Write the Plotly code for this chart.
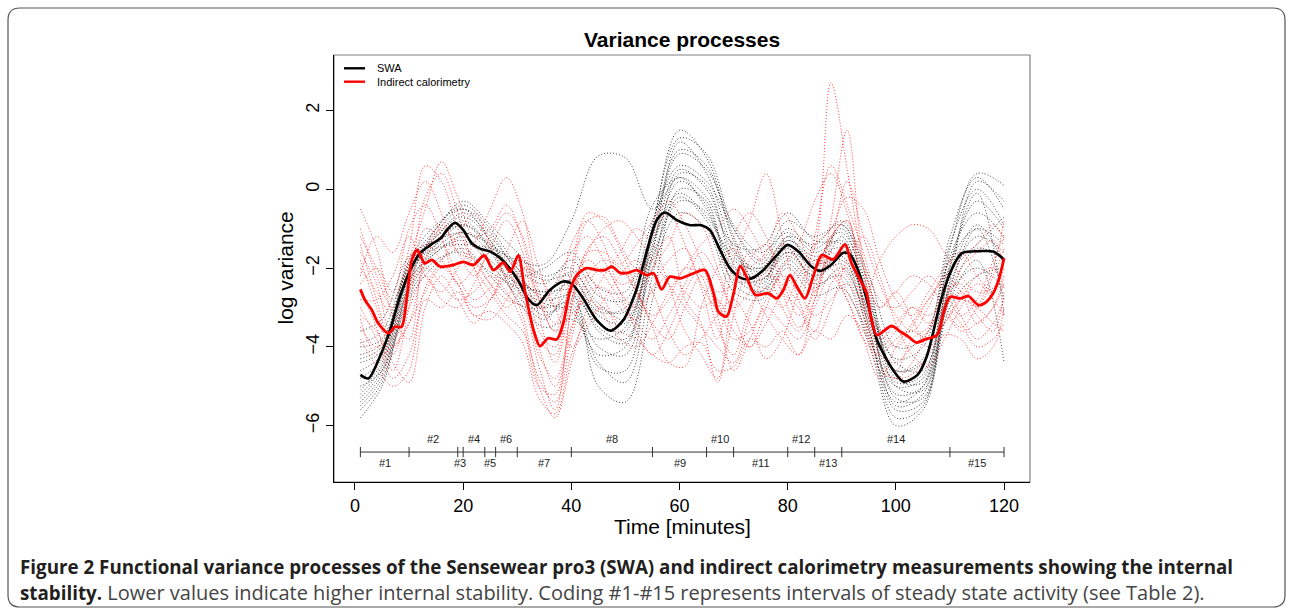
import plotly.graph_objects as go

# ---------------- data ----------------
# mean variance processes
SWA_x = [1, 2.5, 4.6, 6.5, 8.3, 10.2, 12, 14, 16, 17, 18.5, 20, 21.6, 23, 25, 27, 28.7, 30.5, 32, 33.6,
         36, 38.5, 40, 42, 44.7, 47.2, 49.6, 52, 54, 55.8, 57.3, 59.5, 62, 64, 65.6, 67.5, 69.3, 71.5,
         73.4, 75.5, 78, 80, 82, 84.4, 86, 88, 90.3, 91.5, 93.4, 95, 96.5, 99.5, 101.4, 104, 105.7,
         108.2, 110, 112.2, 115.6, 118, 120]
SWA_y = [-4.71, -4.8, -4.25, -3.57, -2.73, -2.05, -1.62, -1.41, -1.22, -1.03, -0.85, -1.03, -1.37, -1.5,
         -1.58, -1.76, -2.02, -2.39, -2.78, -2.94, -2.56, -2.34, -2.39, -2.73, -3.32, -3.59, -3.32, -2.56,
         -1.54, -0.78, -0.59, -0.78, -0.91, -0.91, -1.03, -1.54, -2.0, -2.26, -2.26, -2.05, -1.67, -1.41,
         -1.58, -1.96, -2.07, -1.92, -1.61, -1.65, -2.2, -3.0, -3.82, -4.59, -4.88, -4.71, -4.25, -2.89,
         -2.13, -1.62, -1.57, -1.58, -1.78]

IC_x = [1, 1.85, 3.1, 4.3, 6.2, 7.4, 8.6, 9.6, 10.5, 11.5, 12.9, 14.2, 15.7, 18.2, 20, 21.9, 23.9, 25.6,
        27.4, 28.7, 30.2, 31.4, 33, 34.2, 35.7, 37.3, 38.5, 39.8, 41, 42.8, 44.7, 46.2, 47.5, 49, 50.5,
        52.1, 53.9, 55.2, 56.7, 58.2, 60.1, 62.6, 64.7, 66.3, 67.2, 68.7, 70, 71.2, 72.4, 74, 76.4, 78,
        79.2, 80.4, 81.7, 83.2, 84.7, 86.3, 88.4, 90.6, 91.8, 93.4, 94.6, 95.5, 96.5, 99.2, 100.8, 102.3,
        103.8, 105.4, 107.6, 108.8, 110, 111.9, 113.4, 115.3, 116.8, 118, 119, 120]
IC_y = [-2.54, -2.81, -3.06, -3.4, -3.65, -3.49, -3.49, -2.73, -1.79, -1.54, -1.88, -1.79, -1.96, -1.92,
        -1.84, -1.92, -1.68, -2.05, -1.86, -2.09, -1.68, -2.56, -3.57, -3.98, -3.78, -3.81, -3.4, -2.56,
        -2.18, -2.0, -2.05, -2.05, -1.96, -2.12, -2.12, -2.05, -2.18, -2.13, -2.54, -2.22, -2.26, -2.13,
        -2.05, -2.64, -3.11, -3.23, -2.64, -1.95, -2.22, -2.68, -2.64, -2.77, -2.56, -2.18, -2.47, -2.77,
        -2.22, -1.67, -1.78, -1.4, -1.88, -2.3, -2.64, -3.32, -3.7, -3.47, -3.61, -3.74, -3.89, -3.81,
        -3.7, -3.15, -2.73, -2.77, -2.71, -2.94, -2.85, -2.64, -2.3, -1.75]

# individual SWA processes (read on a 5-minute grid)
SWA_grid = [1, 5, 10, 15, 20, 25, 30, 35, 40, 45, 50, 55, 60, 65, 70, 75, 80, 85, 90, 95, 100, 105, 110, 115, 120]
swa_1 = [-5.6, -4.9, -2.4, -1.0, -0.4, -1.0, -2.0, -3.1, -3.0, -4.5, -4.6, -1.0, 1.5, 0.8, -1.2, -2.3, -1.6, -2.2, -1.2, -3.5, -5.8, -5.5, -2.0, -0.3, -1.0]
swa_2 = [-5.2, -4.5, -2.2, -1.2, -0.7, -1.3, -2.5, -3.2, -2.8, -4.0, -4.2, -1.6, 1.2, 0.4, -1.5, -2.4, -1.3, -1.8, -1.0, -3.0, -5.5, -5.2, -2.3, 0.2, -0.3]
swa_3 = [-4.0, -3.8, -2.0, -1.5, -1.4, -1.5, -1.8, -1.9, -0.8, 0.85, 0.8, -0.5, 0.3, -0.5, -1.8, -2.0, -1.2, -1.4, -0.8, -2.2, -4.0, -3.8, -1.8, -1.0, -1.4]
swa_4 = [-4.6, -4.2, -2.3, -1.6, -1.2, -1.8, -2.4, -2.6, -2.6, -5.0, -5.4, -2.8, 0.0, -0.3, -2.4, -2.7, -1.8, -2.4, -2.2, -3.8, -5.0, -4.8, -2.6, -2.0, -2.5]
swa_5 = [-3.9, -3.6, -1.9, -1.2, -0.6, -1.2, -2.0, -2.4, -1.8, -2.7, -2.8, -0.8, 0.6, 0.2, -1.0, -1.8, -0.8, -1.2, -0.9, -2.6, -4.4, -4.6, -1.5, 0.4, 0.1]
swa_6 = [-5.0, -4.6, -2.6, -1.6, -1.3, -1.9, -2.7, -3.3, -2.6, -3.5, -3.8, -1.8, -0.3, -0.6, -2.2, -2.6, -1.9, -2.5, -2.0, -3.4, -5.2, -5.0, -2.8, -1.8, -4.4]
swa_7 = [-4.3, -4.0, -1.9, -1.0, -0.3, -0.9, -1.6, -2.2, -2.0, -3.0, -3.1, -1.2, 0.9, 0.5, -0.9, -1.6, -1.1, -1.6, -1.3, -2.8, -4.8, -4.9, -1.7, -0.6, -1.2]
swa_8 = [-5.8, -5.0, -2.7, -1.8, -1.6, -2.1, -2.5, -2.9, -3.1, -4.2, -4.0, -2.0, -0.6, -1.0, -2.6, -2.8, -2.0, -2.7, -2.5, -3.9, -6.0, -5.6, -3.0, -2.2, -2.0]
swa_9 = [-4.8, -4.3, -2.0, -1.4, -0.9, -1.4, -2.2, -2.0, -1.6, -2.5, -2.6, -0.4, 0.3, -0.2, -1.4, -1.5, -0.6, -1.3, -1.4, -3.1, -4.3, -4.0, -1.2, 0.3, -0.5]
swa_10 = [-5.4, -4.7, -2.5, -1.5, -1.1, -1.6, -2.8, -3.5, -3.3, -3.8, -3.5, -1.5, 0.2, -0.4, -2.0, -2.2, -1.5, -2.3, -1.6, -3.2, -5.3, -5.3, -2.4, -1.2, -1.6]
swa_11 = [-3.6, -3.3, -1.7, -1.3, -1.1, -1.4, -1.9, -2.3, -2.2, -3.1, -3.0, -1.3, -0.1, -0.7, -1.7, -2.1, -1.6, -1.9, -1.8, -2.9, -4.6, -4.4, -2.0, -1.4, -0.7]
swa_12 = [-5.1, -4.4, -2.3, -1.1, -0.5, -1.1, -2.1, -2.8, -2.7, -3.4, -3.6, -1.1, 1.0, 0.6, -1.3, -2.5, -1.2, -2.0, -0.9, -2.4, -5.0, -5.1, -1.9, -0.1, -3.2]
swa_13 = [-4.4, -4.1, -2.1, -1.3, -0.9, -1.5, -2.3, -2.6, -2.1, -2.9, -3.3, -1.4, 0.5, 0.0, -1.6, -2.0, -1.3, -1.7, -1.5, -3.3, -4.9, -4.7, -2.2, -0.9, -1.9]
swa_14 = [-5.5, -4.8, -2.8, -1.9, -1.5, -2.2, -2.9, -3.0, -2.3, -3.2, -3.4, -1.7, -0.2, -0.8, -2.3, -2.3, -1.7, -2.2, -1.9, -3.6, -5.6, -5.4, -2.7, -1.5, -1.8]
swa_15 = [-4.2, -3.9, -1.8, -0.9, -0.5, -1.3, -2.2, -2.7, -2.4, -3.6, -3.9, -0.9, 1.3, 0.9, -1.0, -1.9, -1.0, -1.5, -1.1, -2.7, -4.6, -4.3, -1.4, 0.0, -0.9]
swa_16 = [-5.3, -4.6, -2.4, -1.4, -0.8, -1.5, -2.6, -3.0, -2.9, -4.4, -4.9, -2.2, 0.4, 0.1, -1.9, -2.6, -1.4, -2.1, -1.7, -3.7, -5.4, -5.0, -2.5, -1.0, -2.8]
SWA_runs = [swa_1, swa_2, swa_3, swa_4, swa_5, swa_6, swa_7, swa_8, swa_9, swa_10, swa_11, swa_12,
            swa_13, swa_14, swa_15, swa_16]

# individual indirect calorimetry processes (read on a 3-minute grid)
IC_grid = [1, 4, 7, 10, 13, 16, 19, 22, 25, 28, 31, 34, 37, 40, 43, 46, 49, 52, 55, 58, 61, 64, 67, 70,
           73, 76, 79, 82, 85, 88, 91, 94, 97, 100, 103, 106, 109, 112, 115, 118, 120]
ic_1 = [-1.2, -2.0, -2.8, -1.5, 0.6, 0.2, -1.0, -1.8, -2.4, -2.8, -3.0, -4.5, -5.6, -3.0, -1.5, -1.2, -1.8, -2.6, -3.2, -2.8, -2.0, -2.2, -3.5, -4.2, -3.0, -2.5, -3.0, -2.2, -1.5, 2.7, 0.5, -2.0, -4.0, -4.6, -3.8, -3.5, -2.6, -2.4, -3.0, -2.2, -1.5]
ic_2 = [-0.5, -1.5, -3.2, -3.8, -1.5, -0.9, -1.6, -2.2, -1.5, -0.8, -1.6, -3.6, -4.0, -2.2, -0.8, -0.7, -1.4, -2.0, -1.8, -1.2, -2.8, -3.4, -4.9, -3.2, -1.8, -1.4, -2.6, -3.5, -2.8, -0.8, 1.5, -1.8, -3.0, -2.6, -3.3, -4.0, -3.4, -2.8, -2.2, -2.0, -2.5]
ic_3 = [-2.6, -3.5, -4.6, -3.0, -1.0, -1.3, -2.2, -2.8, -2.5, -1.8, -2.5, -4.2, -4.8, -3.5, -2.6, -2.5, -3.0, -3.3, -2.5, -1.8, -1.5, -2.5, -3.8, -1.8, -0.8, 0.4, -1.2, -2.8, -3.6, -2.4, -2.0, -2.9, -3.8, -3.4, -3.0, -3.2, -2.8, -2.0, -1.6, -1.3, -2.0]
ic_4 = [-3.5, -4.0, -3.6, -2.5, -2.0, -2.4, -2.8, -2.6, -2.2, -2.6, -3.4, -5.0, -5.2, -3.0, -1.6, -1.0, -0.8, -1.2, -1.8, -2.4, -3.0, -3.5, -4.0, -4.4, -3.2, -2.2, -2.4, -3.2, -2.6, -1.6, -2.2, -2.8, -1.8, -1.2, -0.9, -1.0, -1.6, -2.2, -2.6, -2.5, -1.8]
ic_5 = [-2.0, -2.6, -3.2, -1.8, -0.5, 0.7, -0.2, -1.2, -1.0, -0.4, -1.3, -3.2, -4.4, -2.8, -1.6, -1.6, -1.9, -1.4, -0.8, -0.3, -0.9, -1.8, -2.6, -2.4, -2.0, -1.6, -0.6, -1.2, -2.0, -1.2, -0.8, -2.6, -3.6, -4.0, -3.5, -2.8, -2.2, -1.8, -1.4, -0.9, -1.3]
ic_6 = [-3.8, -4.5, -5.0, -4.6, -2.8, -3.0, -2.6, -3.2, -3.1, -3.4, -3.9, -5.3, -5.7, -4.2, -3.3, -3.0, -3.6, -3.8, -4.2, -4.4, -4.0, -3.9, -4.6, -4.5, -3.8, -4.0, -3.6, -4.2, -3.6, -3.8, -3.2, -3.6, -4.6, -4.8, -4.7, -4.2, -3.7, -3.8, -4.3, -4.0, -3.0]
ic_7 = [-1.6, -2.4, -3.8, -3.0, -2.2, -2.8, -3.0, -2.4, -1.6, -2.0, -2.8, -3.8, -4.2, -2.0, -0.6, -0.8, -1.5, -2.5, -3.5, -4.4, -4.5, -3.0, -2.0, -1.5, -2.4, -3.2, -3.8, -4.2, -2.8, -1.8, -2.6, -3.4, -4.4, -4.8, -4.4, -3.6, -3.0, -3.4, -4.0, -3.8, -3.4]
ic_8 = [-3.0, -3.8, -4.8, -4.2, -2.5, -1.8, -1.2, -0.6, -1.4, -2.3, -3.2, -5.0, -5.8, -4.4, -3.0, -2.2, -1.6, -1.0, -1.4, -2.4, -3.6, -4.2, -4.8, -2.6, -1.6, -2.0, -3.0, -3.6, -2.4, -1.2, -0.8, -3.0, -4.0, -3.6, -3.0, -3.4, -3.0, -2.6, -3.2, -3.6, -2.6]
ic_9 = [-2.8, -2.8, -2.2, -1.2, -2.2, -2.6, -2.0, -1.4, -0.5, 0.3, -0.6, -2.6, -3.4, -2.6, -2.2, -2.8, -3.4, -2.8, -2.0, -1.4, -0.6, -0.9, -2.0, -3.2, -4.0, -3.0, -2.0, -1.4, -0.3, 0.4, -0.6, -2.0, -3.0, -2.6, -2.2, -2.4, -3.0, -3.5, -3.0, -2.0, -0.8]
ic_10 = [-1.0, -2.2, -3.0, -2.2, -1.4, -1.8, -2.4, -3.0, -2.8, -2.2, -1.8, -2.8, -3.6, -3.2, -2.8, -3.2, -3.8, -4.0, -3.4, -2.6, -2.0, -1.4, -1.0, -0.5, -1.0, -1.8, -2.6, -3.0, -3.8, -3.0, -1.8, -1.2, -2.2, -3.4, -4.2, -4.5, -3.8, -3.0, -2.4, -2.8, -3.2]
ic_11 = [-3.3, -4.2, -4.0, -3.4, -2.6, -2.0, -2.4, -3.2, -3.3, -2.8, -2.0, -2.2, -3.0, -4.0, -3.5, -2.8, -2.2, -1.8, -2.6, -3.6, -4.2, -3.8, -3.2, -2.8, -3.4, -4.3, -3.8, -2.6, -1.8, -2.0, -2.8, -3.8, -4.8, -4.0, -3.4, -2.8, -2.4, -3.2, -3.8, -3.4, -2.8]
ic_12 = [-2.2, -1.2, -1.6, -0.6, 0.2, -0.6, -1.6, -1.8, -2.4, -3.0, -2.6, -3.0, -2.4, -1.6, -1.2, -1.8, -2.6, -3.0, -2.6, -2.2, -2.6, -3.0, -2.8, -3.6, -4.0, -3.4, -2.6, -2.0, -1.4, -1.0, -0.2, -0.5, -1.8, -2.8, -3.2, -2.6, -2.0, -1.6, -2.2, -2.6, -2.0]
ic_13 = [-1.8, -3.0, -4.2, -2.6, -0.2, 0.4, -0.6, -2.0, -2.8, -1.6, -0.8, -2.0, -3.0, -1.4, -0.8, -1.4, -2.4, -2.2, -1.2, -0.6, -1.4, -2.4, -3.0, -1.2, -0.6, -1.2, -2.2, -2.8, -1.2, 0.6, -0.4, -1.6, -2.8, -3.0, -2.6, -2.2, -2.6, -3.2, -2.8, -1.8, -1.2]
ic_14 = [-3.2, -3.6, -4.4, -4.9, -3.0, -2.2, -2.8, -3.4, -2.8, -2.2, -2.6, -4.0, -5.0, -3.6, -2.2, -1.8, -2.0, -2.6, -3.4, -3.8, -3.0, -2.2, -2.8, -3.8, -3.6, -2.8, -2.2, -2.6, -3.2, -2.8, -2.4, -3.2, -4.2, -4.4, -4.0, -3.6, -3.2, -3.6, -3.4, -3.0, -2.4]
ic_15 = [-2.4, -2.0, -2.6, -1.0, -0.4, -1.2, -2.4, -2.0, -1.2, -0.6, -1.2, -2.8, -3.6, -2.4, -1.8, -2.2, -2.8, -3.4, -3.8, -3.2, -2.4, -1.6, -2.2, -3.0, -2.6, -2.0, -1.4, -1.8, -2.6, -1.4, 0.2, -1.2, -2.4, -3.2, -3.6, -3.0, -2.2, -2.6, -3.4, -3.0, -2.2]
ic_16 = [-1.4, -2.8, -4.0, -3.4, -1.8, -1.0, -1.4, -2.0, -2.6, -3.2, -3.6, -4.8, -5.4, -3.8, -2.4, -2.0, -2.6, -3.6, -4.2, -3.6, -2.6, -2.0, -3.2, -4.6, -3.8, -3.0, -3.4, -3.8, -3.0, -2.2, -2.8, -3.8, -4.2, -3.8, -3.6, -3.8, -3.4, -2.8, -3.0, -3.4, -3.6]
IC_runs = [ic_1, ic_2, ic_3, ic_4, ic_5, ic_6, ic_7, ic_8, ic_9, ic_10, ic_11, ic_12,
           ic_13, ic_14, ic_15, ic_16]

# steady-state activity intervals
interval_bounds = [1, 10, 19, 20, 24, 26, 30, 40, 55, 65, 70, 80, 85, 90, 110, 120]
interval_labels = ["#%d" % i for i in range(1, 16)]
interval_level = -6.67

x_ticks = [0, 20, 40, 60, 80, 100, 120]
y_ticks = [-6, -4, -2, 0, 2]
y_ticktext = ["\u22126", "\u22124", "\u22122", "0", "2"]

# ---------------- layout helpers ----------------
W, H = 1292, 610
def px(x):
    return x / W
def py(y):
    return 1 - y / H

FONT = "Liberation Sans, Arial, Helvetica, sans-serif"
fig = go.Figure()

for run in SWA_runs:
    fig.add_trace(go.Scatter(x=SWA_grid, y=run, mode="lines", hoverinfo="skip", showlegend=False,
                             line=dict(color="rgba(0,0,0,0.75)", width=1, dash="1px,2px",
                                       shape="spline", smoothing=1.0)))
for run in IC_runs:
    fig.add_trace(go.Scatter(x=IC_grid, y=run, mode="lines", hoverinfo="skip", showlegend=False,
                             line=dict(color="rgba(255,0,0,0.75)", width=1, dash="1px,2px",
                                       shape="spline", smoothing=1.0)))

fig.add_trace(go.Scatter(x=SWA_x, y=SWA_y, mode="lines", name="SWA", showlegend=False,
                         line=dict(color="black", width=2.6, shape="spline", smoothing=0.8)))
fig.add_trace(go.Scatter(x=IC_x, y=IC_y, mode="lines", name="Indirect calorimetry", showlegend=False,
                         line=dict(color="#ff0000", width=2.8, shape="spline", smoothing=0.8)))

# interval bar
fig.add_trace(go.Scatter(x=[interval_bounds[0], interval_bounds[-1]], y=[interval_level, interval_level],
                         mode="lines", hoverinfo="skip", showlegend=False,
                         line=dict(color="#333333", width=1)))
tx, ty = [], []
for b in interval_bounds:
    tx += [b, b, None]
    ty += [interval_level - 0.13, interval_level + 0.13, None]
fig.add_trace(go.Scatter(x=tx, y=ty, mode="lines", hoverinfo="skip", showlegend=False,
                         line=dict(color="#333333", width=1)))

annotations = []
for i, lab in enumerate(interval_labels):
    mid = (interval_bounds[i] + interval_bounds[i + 1]) / 2
    above = (i % 2 == 1)
    annotations.append(dict(x=mid, y=interval_level + (0.33 if above else -0.29), xref="x", yref="y",
                            text=lab, showarrow=False, xanchor="center", yanchor="middle",
                            font=dict(size=11, color="#222222", family=FONT)))

# title, axis labels
annotations += [
    dict(x=px(682), y=py(40), xref="paper", yref="paper", text="<b>Variance processes</b>",
         showarrow=False, xanchor="center", yanchor="middle", font=dict(size=21, color="black", family=FONT)),
    dict(x=px(682), y=py(526), xref="paper", yref="paper", text="Time [minutes]",
         showarrow=False, xanchor="center", yanchor="middle", font=dict(size=21, color="black", family=FONT)),
    dict(x=px(285), y=py(268.5), xref="paper", yref="paper", text="log variance", textangle=-90,
         showarrow=False, xanchor="center", yanchor="middle", font=dict(size=21, color="black", family=FONT)),
    # legend texts
    dict(x=px(375), y=py(68.3), xref="paper", yref="paper", text="SWA",
         showarrow=False, xanchor="left", yanchor="middle", font=dict(size=11, color="black", family=FONT)),
    dict(x=px(375), y=py(81.7), xref="paper", yref="paper", text="Indirect calorimetry",
         showarrow=False, xanchor="left", yanchor="middle", font=dict(size=11, color="black", family=FONT)),
]

CAP_FONT = "Open Sans, sans-serif"
annotations += [
    dict(x=px(18), y=py(567), xref="paper", yref="paper",
         text="<b>Figure 2 Functional variance processes of the Sensewear pro3 (SWA) and indirect calorimetry measurements showing the internal</b>",
         showarrow=False, xanchor="left", yanchor="middle", font=dict(size=18.8, color="#231f20", family=CAP_FONT)),
    dict(x=px(18), y=py(592), xref="paper", yref="paper",
         text="<b>stability.</b><span style='font-size:20px;color:#444444'> Lower values indicate higher internal stability. Coding #1-#15 represents intervals of steady state activity (see Table 2).</span>",
         showarrow=False, xanchor="left", yanchor="middle", font=dict(size=18.8, color="#231f20", family=CAP_FONT)),
]

# shapes: outer rounded frame, plot box, legend line keys
r = 12
x0, x1, y0, y1 = 8, 1285, 8, 607
def P(x, y):
    return "%.6f,%.6f" % (px(x), py(y))
frame_path = ("M " + P(x0 + r, y0) + " L " + P(x1 - r, y0) + " Q " + P(x1, y0) + " " + P(x1, y0 + r) +
              " L " + P(x1, y1 - r) + " Q " + P(x1, y1) + " " + P(x1 - r, y1) +
              " L " + P(x0 + r, y1) + " Q " + P(x0, y1) + " " + P(x0, y1 - r) +
              " L " + P(x0, y0 + r) + " Q " + P(x0, y0) + " " + P(x0 + r, y0) + " Z")
shapes = [
    dict(type="path", path=frame_path, xref="paper", yref="paper", line=dict(color="#555555", width=1.2)),
    dict(type="rect", xref="paper", yref="paper", x0=px(334), x1=px(1030), y0=py(482), y1=py(55),
         line=dict(color="#808080", width=1.2), layer="below"),
    dict(type="line", xref="paper", yref="paper", x0=px(344), x1=px(365), y0=py(68.3), y1=py(68.3),
         line=dict(color="black", width=2.4)),
    dict(type="line", xref="paper", yref="paper", x0=px(344), x1=px(365), y0=py(81.7), y1=py(81.7),
         line=dict(color="#ff0000", width=2.4)),
]

fig.update_layout(
    width=W, height=H,
    margin=dict(l=0, r=0, t=0, b=0, autoexpand=False),
    paper_bgcolor="white", plot_bgcolor="white",
    showlegend=False,
    font=dict(family=FONT, color="black"),
    annotations=annotations,
    shapes=shapes,
    xaxis=dict(domain=[px(334), px(1030)], range=[-3.88, 124.8], tickvals=x_ticks,
               ticks="outside", ticklen=7, tickcolor="black", showline=True, linecolor="black", linewidth=1.2,
               showgrid=False, zeroline=False, tickfont=dict(size=18, family=FONT, color="black")),
    yaxis=dict(domain=[py(482), py(55)], range=[-7.43, 3.41], tickvals=y_ticks, ticktext=y_ticktext,
               tickangle=-90, ticks="outside", ticklen=7, tickcolor="black", showline=True,
               linecolor="black", linewidth=1.2, showgrid=False, zeroline=False,
               tickfont=dict(size=18, family=FONT, color="black")),
)

fig.write_html("out.html", config={"displayModeBar": False},
               post_script="document.body.style.margin='0';document.body.style.overflow='hidden';")
